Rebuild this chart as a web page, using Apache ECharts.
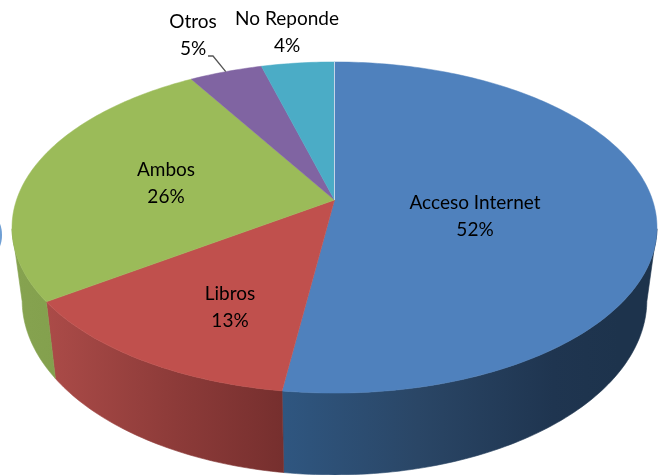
<!DOCTYPE html>
<html>
<head>
<meta charset="utf-8">
<title>Pie</title>
<style>
  html, body { margin: 0; padding: 0; background: #fff; }
  #chart { width: 665px; height: 475px; }
</style>
<script src="https://cdn.jsdelivr.net/npm/echarts@6/dist/echarts.min.js"></script>
</head>
<body>
<div id="chart"></div>
<script>
// datos
const categories = ["Acceso Internet", "Libros", "Ambos", "Otros", "No Reponde"];
const shares = [52.2, 13.1, 26.1, 4.3, 4.3];
const percentLabels = ["52%", "13%", "26%", "5%", "4%"];

// estilo
const topColors = ["#4f81bd", "#c0504d", "#9bbb59", "#8064a2", "#4bacc6"];
const wallStops = [
  [[0, "#2f5680"], [0.4, "#2a4666"], [0.8, "#1f3550"], [1, "#1d334c"]],
  [[0, "#ab4b48"], [0.5, "#8f3c3a"], [1, "#762f2e"]],
  [[0, "#86a350"], [1, "#83a04d"]]
];
const wallRanges = [[284, 620], [47, 284], [12, 60]];
const labelCenters = [[475, 203], [230, 294], [166, 170], [193, 22], [287, 19]];
const labelGap = 27;

// proyeccion en perspectiva de un disco
const topDisc = { cx: 334.5, cy: 200, a: 161, b: 318, k: 0.1662 };
const baseDisc = { cx: 334.5, cy: 271, a: 170, b: 308, k: 0.1662 };
// angulos en los que la pared deja de verse
const wallFrom = 100;
const wallTo = 260;

function project(disc, deg, r) {
  const t = deg * Math.PI / 180;
  const u = Math.sin(t) * r;
  const v = Math.cos(t) * r;
  const s = 1 + disc.k * v;
  return [disc.cx + disc.b * u / s, disc.cy - disc.a * v / s];
}

function arc(disc, from, to) {
  const pts = [];
  const n = Math.max(2, Math.ceil(Math.abs(to - from)));
  for (let i = 0; i <= n; i++) {
    pts.push(project(disc, from + (to - from) * i / n, 1));
  }
  return pts;
}

function sliceAngles(idx) {
  let start = 0;
  for (let i = 0; i < idx; i++) start += shares[i];
  return [start * 3.6, (start + shares[idx]) * 3.6];
}

function renderWall(params, api) {
  const i = params.dataIndex;
  const range = sliceAngles(i);
  const from = Math.max(range[0], wallFrom);
  const to = Math.min(range[1], wallTo);
  if (to <= from || !wallStops[i]) return { type: "group", children: [] };
  const points = arc(topDisc, from, to).concat(arc(baseDisc, to, from));
  const fill = new echarts.graphic.LinearGradient(
    wallRanges[i][0], 0, wallRanges[i][1], 0,
    wallStops[i].map(s => ({ offset: s[0], color: s[1] })),
    true
  );
  return {
    type: "polygon",
    shape: { points: points },
    style: { fill: fill, stroke: fill, lineWidth: 0.6 }
  };
}

function renderTop(params, api) {
  const i = params.dataIndex;
  const range = sliceAngles(i);
  const apex = project(topDisc, 0, 0);
  const points = [apex].concat(arc(topDisc, range[0], range[1]));
  const children = [{
    type: "polygon",
    shape: { points: points },
    style: { fill: topColors[i], stroke: topColors[i], lineWidth: 0.5 }
  }];
  if (i === 0) {
    const edge = project(topDisc, 0, 1);
    children.push({
      type: "line",
      z2: 5,
      shape: { x1: apex[0], y1: apex[1], x2: edge[0], y2: edge[1] },
      style: { stroke: "#c5d5e8", lineWidth: 1 }
    });
  }
  return { type: "group", children: children };
}

function renderLabel(params, api) {
  const i = params.dataIndex;
  const c = labelCenters[i];
  const text = (t, y) => ({
    type: "text",
    x: c[0],
    y: y,
    style: {
      text: t,
      align: "center",
      verticalAlign: "middle",
      fontFamily: "Lato",
      fontSize: 19,
      fill: "#000"
    }
  });
  const children = [text(categories[i], c[1]), text(percentLabels[i], c[1] + labelGap)];
  if (categories[i] === "Otros") {
    // linea guia hasta el borde de la porcion
    const range = sliceAngles(i);
    const end = project(topDisc, (range[0] + range[1]) / 2, 1);
    children.push({
      type: "polyline",
      shape: { points: [[c[0] + 15, c[1] + 34], [c[0] + 20, c[1] + 34], end] },
      style: { stroke: "#555", lineWidth: 1.3, fill: null }
    });
  }
  return { type: "group", children: children };
}

const chart = echarts.init(document.getElementById("chart"), null, { renderer: "canvas" });
chart.setOption({
  animation: false,
  backgroundColor: "#fff",
  graphic: [{
    type: "ellipse",
    shape: { cx: -7, cy: 235, rx: 9, ry: 18 },
    style: { fill: "#6f9fd4" }
  }],
  series: [
    { type: "custom", coordinateSystem: "none", z: 1, silent: true, renderItem: renderWall, data: shares },
    { type: "custom", coordinateSystem: "none", z: 2, silent: true, renderItem: renderTop, data: shares },
    { type: "custom", coordinateSystem: "none", z: 3, silent: true, renderItem: renderLabel, data: shares }
  ]
});
</script>
</body>
</html>
